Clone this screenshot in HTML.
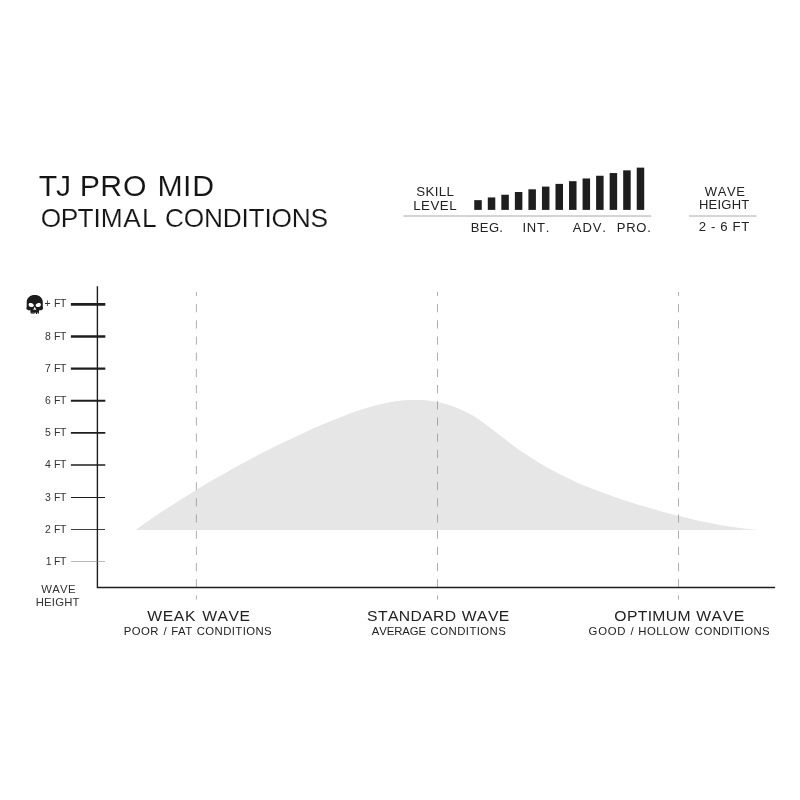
<!DOCTYPE html>
<html lang="en">
<head>
<meta charset="utf-8">
<title>TJ PRO MID - Optimal Conditions</title>
<style>
html,body{margin:0;padding:0;background:#fff;}
body{width:800px;height:800px;overflow:hidden;}
svg{display:block;}
svg text{font-family:'Liberation Sans', sans-serif;}
</style>
</head>
<body>
<svg width="800" height="800" viewBox="0 0 800 800" role="img" aria-label="TJ PRO MID optimal conditions chart">
<rect width="800" height="800" fill="#fff"/>
<path d="M136.2,529.7 C138.4,528.1 144.9,523.3 149.2,520.3 C153.5,517.3 157.9,514.5 162.2,511.6 C166.5,508.8 170.8,505.9 175.2,503.2 C179.5,500.4 183.8,497.7 188.1,495.0 C192.5,492.3 196.8,489.6 201.1,487.0 C205.4,484.4 209.8,481.9 214.1,479.3 C218.4,476.8 222.7,474.3 227.1,471.9 C231.4,469.5 235.7,467.1 240.0,464.7 C244.4,462.4 248.7,460.0 253.0,457.8 C257.3,455.5 261.7,453.2 266.0,451.1 C270.3,448.9 274.6,446.7 279.0,444.6 C283.3,442.5 287.6,440.4 291.9,438.4 C296.3,436.3 300.6,434.3 304.9,432.4 C309.2,430.4 313.6,428.5 317.9,426.6 C322.2,424.7 326.5,422.9 330.9,421.1 C335.2,419.3 339.5,417.5 343.8,415.9 C348.2,414.2 352.5,412.6 356.8,411.1 C361.1,409.7 365.5,408.3 369.8,407.0 C374.1,405.8 378.4,404.7 382.8,403.7 C387.1,402.8 391.4,401.9 395.7,401.3 C400.1,400.7 404.4,400.3 408.7,400.1 C413.0,399.9 417.4,399.8 421.7,400.1 C426.0,400.3 430.3,400.8 434.7,401.5 C439.0,402.3 443.3,403.3 447.6,404.6 C451.9,405.9 456.3,407.5 460.6,409.4 C464.9,411.3 469.2,413.5 473.6,416.1 C477.9,418.7 482.2,421.7 486.5,424.9 C490.9,428.0 495.2,431.6 499.5,435.0 C503.8,438.3 508.2,441.8 512.5,444.9 C516.8,448.1 521.1,451.1 525.5,454.1 C529.8,457.0 534.1,459.7 538.4,462.3 C542.8,465.0 547.1,467.5 551.4,469.8 C555.7,472.2 560.1,474.5 564.4,476.6 C568.7,478.7 573.0,480.7 577.4,482.7 C581.7,484.6 586.0,486.4 590.3,488.1 C594.7,489.9 599.0,491.5 603.3,493.1 C607.6,494.7 612.0,496.2 616.3,497.6 C620.6,499.1 624.9,500.5 629.3,501.9 C633.6,503.2 637.9,504.5 642.2,505.8 C646.6,507.1 650.9,508.4 655.2,509.6 C659.5,510.9 663.9,512.1 668.2,513.2 C672.5,514.4 676.8,515.5 681.2,516.6 C685.5,517.7 689.8,518.7 694.1,519.7 C698.5,520.7 702.8,521.6 707.1,522.5 C711.4,523.4 715.8,524.2 720.1,525.0 C724.4,525.7 728.7,526.4 733.1,527.1 C737.4,527.7 741.7,528.3 746.0,528.8 C750.4,529.3 756.8,529.9 759.0,530.1 L759.0,530.1 L136.2,530.1 Z" fill="#e6e6e6"/>
<line x1="196.4" y1="292" x2="196.4" y2="599.6" stroke="#8c8c8c" stroke-width="0.7" stroke-dasharray="8.2 7.98" stroke-dashoffset="4.08"/>
<line x1="437.5" y1="292" x2="437.5" y2="599.6" stroke="#8c8c8c" stroke-width="0.7" stroke-dasharray="8.2 7.98" stroke-dashoffset="4.08"/>
<line x1="678.5" y1="292" x2="678.5" y2="599.6" stroke="#8c8c8c" stroke-width="0.7" stroke-dasharray="8.2 7.98" stroke-dashoffset="4.08"/>
<rect x="474.25" y="200.15" width="7.5" height="9.75" fill="#1e1e1e"/>
<rect x="487.79" y="197.44" width="7.5" height="12.46" fill="#1e1e1e"/>
<rect x="501.33" y="194.73" width="7.5" height="15.17" fill="#1e1e1e"/>
<rect x="514.87" y="192.02" width="7.5" height="17.88" fill="#1e1e1e"/>
<rect x="528.41" y="189.31" width="7.5" height="20.59" fill="#1e1e1e"/>
<rect x="541.95" y="186.60" width="7.5" height="23.30" fill="#1e1e1e"/>
<rect x="555.49" y="183.89" width="7.5" height="26.01" fill="#1e1e1e"/>
<rect x="569.03" y="181.18" width="7.5" height="28.72" fill="#1e1e1e"/>
<rect x="582.57" y="178.47" width="7.5" height="31.43" fill="#1e1e1e"/>
<rect x="596.11" y="175.76" width="7.5" height="34.14" fill="#1e1e1e"/>
<rect x="609.65" y="173.05" width="7.5" height="36.85" fill="#1e1e1e"/>
<rect x="623.19" y="170.34" width="7.5" height="39.56" fill="#1e1e1e"/>
<rect x="636.73" y="167.63" width="7.5" height="42.27" fill="#1e1e1e"/>
<line x1="403.3" y1="216" x2="651.2" y2="216" stroke="#a8a8a8" stroke-width="1"/>
<line x1="689" y1="216" x2="756.5" y2="216" stroke="#acacac" stroke-width="1"/>
<path d="M97.4,286.3 V587.5 H775.1" fill="none" stroke="#1e1e1e" stroke-width="1.4"/>
<line x1="70.9" y1="304.40" x2="105.3" y2="304.40" stroke="#1e1e1e" stroke-width="2.60"/>
<line x1="70.9" y1="336.51" x2="105.3" y2="336.51" stroke="#1e1e1e" stroke-width="2.35"/>
<line x1="70.9" y1="368.62" x2="105.3" y2="368.62" stroke="#1e1e1e" stroke-width="2.10"/>
<line x1="70.9" y1="400.73" x2="105.3" y2="400.73" stroke="#1e1e1e" stroke-width="1.85"/>
<line x1="70.9" y1="432.84" x2="105.3" y2="432.84" stroke="#1e1e1e" stroke-width="1.60"/>
<line x1="70.9" y1="464.95" x2="105.3" y2="464.95" stroke="#1e1e1e" stroke-width="1.35"/>
<line x1="70.9" y1="497.06" x2="105.3" y2="497.06" stroke="#1e1e1e" stroke-width="1.10" shape-rendering="crispEdges"/>
<line x1="70.9" y1="529.17" x2="105.3" y2="529.17" stroke="#1e1e1e" stroke-width="0.85" shape-rendering="crispEdges"/>
<line x1="70.9" y1="561.28" x2="105.3" y2="561.28" stroke="#8a8a8a" stroke-width="0.60" shape-rendering="crispEdges"/>
<g transform="translate(26.7,294.9)">
<path d="M8.05,0 C12.6,0 16.1,2.7 16.1,7.2 L16.1,12 C16.5,12.6 16.5,13.7 16.1,14.3 L14.6,15.3 L12.4,15.3 L12.2,18.4 L11.4,19 L10.75,17 L10.3,19.2 L9.3,19.2 L8.85,17.2 L8.05,19.2 L7.25,17.2 L6.8,19.2 L5.8,19.2 L5.35,17 L4.7,19 L3.9,18.4 L3.7,15.3 L1.5,15.3 L0,14.3 C-0.4,13.7 -0.4,12.6 0,12 L0,7.2 C0,2.7 3.5,0 8.05,0 Z" fill="#1c1c1c"/>
<path d="M1.9,9.4 C2.1,8.2 3.6,7.9 5.2,8.4 C6.6,8.9 7.3,9.9 7.1,10.9 C6.9,11.9 5.6,12.2 4.2,12.1 C2.6,12 1.7,10.8 1.9,9.4 Z" fill="#fff"/>
<path d="M14.2,9.4 C14,8.2 12.5,7.9 10.9,8.4 C9.5,8.9 8.8,9.9 9,10.9 C9.2,11.9 10.5,12.2 11.9,12.1 C13.5,12 14.4,10.8 14.2,9.4 Z" fill="#fff"/>
<path d="M8.05,11.6 L6.4,15.4 L8.05,14.6 L9.7,15.4 Z" fill="#fff"/>
</g>

<text transform="translate(0 195.80) scale(1.04 1)" x="37.16 53.80 68.34 76.71 96.39 118.39 141.00 151.35 176.01 184.82" y="0" font-size="29.07" fill="#151515" stroke="#fff" stroke-width="0.1">TJ PRO MID</text>
<text transform="translate(0 226.80) scale(1.04 1)" x="39.09 58.31 74.64 90.00 96.77 118.44 136.48 150.55 158.62 176.67 196.13 214.19 232.24 239.05 254.29 261.11 280.57 298.62" y="0" font-size="25.29" fill="#151515" stroke="#fff" stroke-width="0.15">OPTIMAL CONDITIONS</text>
<text transform="translate(0 196.30) scale(1.03 1)" x="404.07 413.03 421.99 425.91 433.43" y="0" font-size="12.94" fill="#222">SKILL</text>
<text transform="translate(0 209.60) scale(1.03 1)" x="401.17 408.84 417.94 427.05 436.15" y="0" font-size="12.94" fill="#222">LEVEL</text>
<text transform="translate(0 231.90) scale(1.03 1)" x="457.12 465.89 474.66 484.83" y="0" font-size="12.65" fill="#222">BEG.</text>
<text transform="translate(0 231.90) scale(1.03 1)" x="507.18 511.50 521.44 529.97" y="0" font-size="12.65" fill="#222">INT.</text>
<text transform="translate(0 231.90) scale(1.03 1)" x="556.19 565.44 575.38 584.63" y="0" font-size="12.65" fill="#222">ADV.</text>
<text transform="translate(0 231.90) scale(1.03 1)" x="598.87 607.98 617.80 628.32" y="0" font-size="12.65" fill="#222">PRO.</text>
<text transform="translate(0 195.90) scale(1.03 1)" x="684.31 696.79 705.76 714.73" y="0" font-size="12.65" fill="#222">WAVE</text>
<text transform="translate(0 209.40) scale(1.03 1)" x="678.67 687.99 696.61 700.31 710.33 719.65" y="0" font-size="12.65" fill="#222">HEIGHT</text>
<text transform="translate(0 231.20) scale(1.03 1)" x="678.48 686.19 690.33 695.18 699.32 707.02 711.17 719.57" y="0" font-size="12.79" fill="#222">2 - 6 FT</text>
<text transform="translate(0 307.45) scale(1.03 1)" x="43.25 49.19 52.37 58.29" y="0" font-size="10.17" fill="#333">+ FT</text>
<text transform="translate(0 339.62) scale(1.03 1)" x="43.63 49.29 52.37 58.29" y="0" font-size="10.17" fill="#333">8 FT</text>
<text transform="translate(0 371.80) scale(1.03 1)" x="43.62 49.28 52.37 58.29" y="0" font-size="10.17" fill="#333">7 FT</text>
<text transform="translate(0 403.97) scale(1.03 1)" x="43.59 49.25 52.37 58.29" y="0" font-size="10.17" fill="#333">6 FT</text>
<text transform="translate(0 436.15) scale(1.03 1)" x="43.64 49.30 52.37 58.29" y="0" font-size="10.17" fill="#333">5 FT</text>
<text transform="translate(0 468.32) scale(1.03 1)" x="43.66 49.32 52.37 58.29" y="0" font-size="10.17" fill="#333">4 FT</text>
<text transform="translate(0 500.50) scale(1.03 1)" x="43.66 49.32 52.37 58.29" y="0" font-size="10.17" fill="#333">3 FT</text>
<text transform="translate(0 532.67) scale(1.03 1)" x="43.63 49.29 52.37 58.29" y="0" font-size="10.17" fill="#333">2 FT</text>
<text transform="translate(0 564.85) scale(1.03 1)" x="44.51 50.17 52.37 58.29" y="0" font-size="10.17" fill="#333">1 FT</text>
<text transform="translate(0 592.50) scale(1.03 1)" x="39.95 50.68 58.35 66.02" y="0" font-size="11.05" fill="#333">WAVE</text>
<text transform="translate(0 606.00) scale(1.03 1)" x="34.72 42.84 50.35 53.55 62.28 70.40" y="0" font-size="11.05" fill="#333">HEIGHT</text>
<text transform="translate(0 620.90) scale(1.03 1)" x="142.85 157.92 168.76 179.60 189.78 196.34 211.22 221.87 232.52" y="0" font-size="15.26" fill="#222">WEAK WAVE</text>
<text transform="translate(0 620.90) scale(1.03 1)" x="356.39 366.93 376.62 387.16 398.54 409.92 420.46 431.84 442.87 448.38 463.16 473.71 484.26" y="0" font-size="15.26" fill="#222">STANDARD WAVE</text>
<text transform="translate(0 620.90) scale(1.03 1)" x="596.46 608.66 619.16 628.81 633.38 646.42 657.76 670.48 675.86 690.86 701.64 712.42" y="0" font-size="15.26" fill="#222">OPTIMUM WAVE</text>
<text transform="translate(0 634.60) scale(1.03 1)" x="120.26 127.97 136.90 145.84 153.81 158.66 161.73 166.38 172.79 179.82 186.56 190.99 199.34 208.31 216.66 225.02 228.46 235.58 239.02 247.99 256.34" y="0" font-size="11.05" fill="#222">POOR / FAT CONDITIONS</text>
<text transform="translate(0 634.60) scale(1.03 1)" x="360.85 368.12 375.39 382.66 390.54 397.82 406.31 413.68 418.08 426.46 435.46 443.85 452.23 455.71 462.86 466.34 475.34 483.72" y="0" font-size="11.05" fill="#222">AVERAGE CONDITIONS</text>
<text transform="translate(0 634.60) scale(1.03 1)" x="571.48 580.77 590.06 599.35 607.32 612.06 615.13 619.77 628.09 637.03 643.51 650.00 658.93 669.36 674.58 682.93 691.88 700.22 708.56 712.00 719.11 722.54 731.50 739.84" y="0" font-size="11.05" fill="#222">GOOD / HOLLOW CONDITIONS</text>
</svg>
</body>
</html>
